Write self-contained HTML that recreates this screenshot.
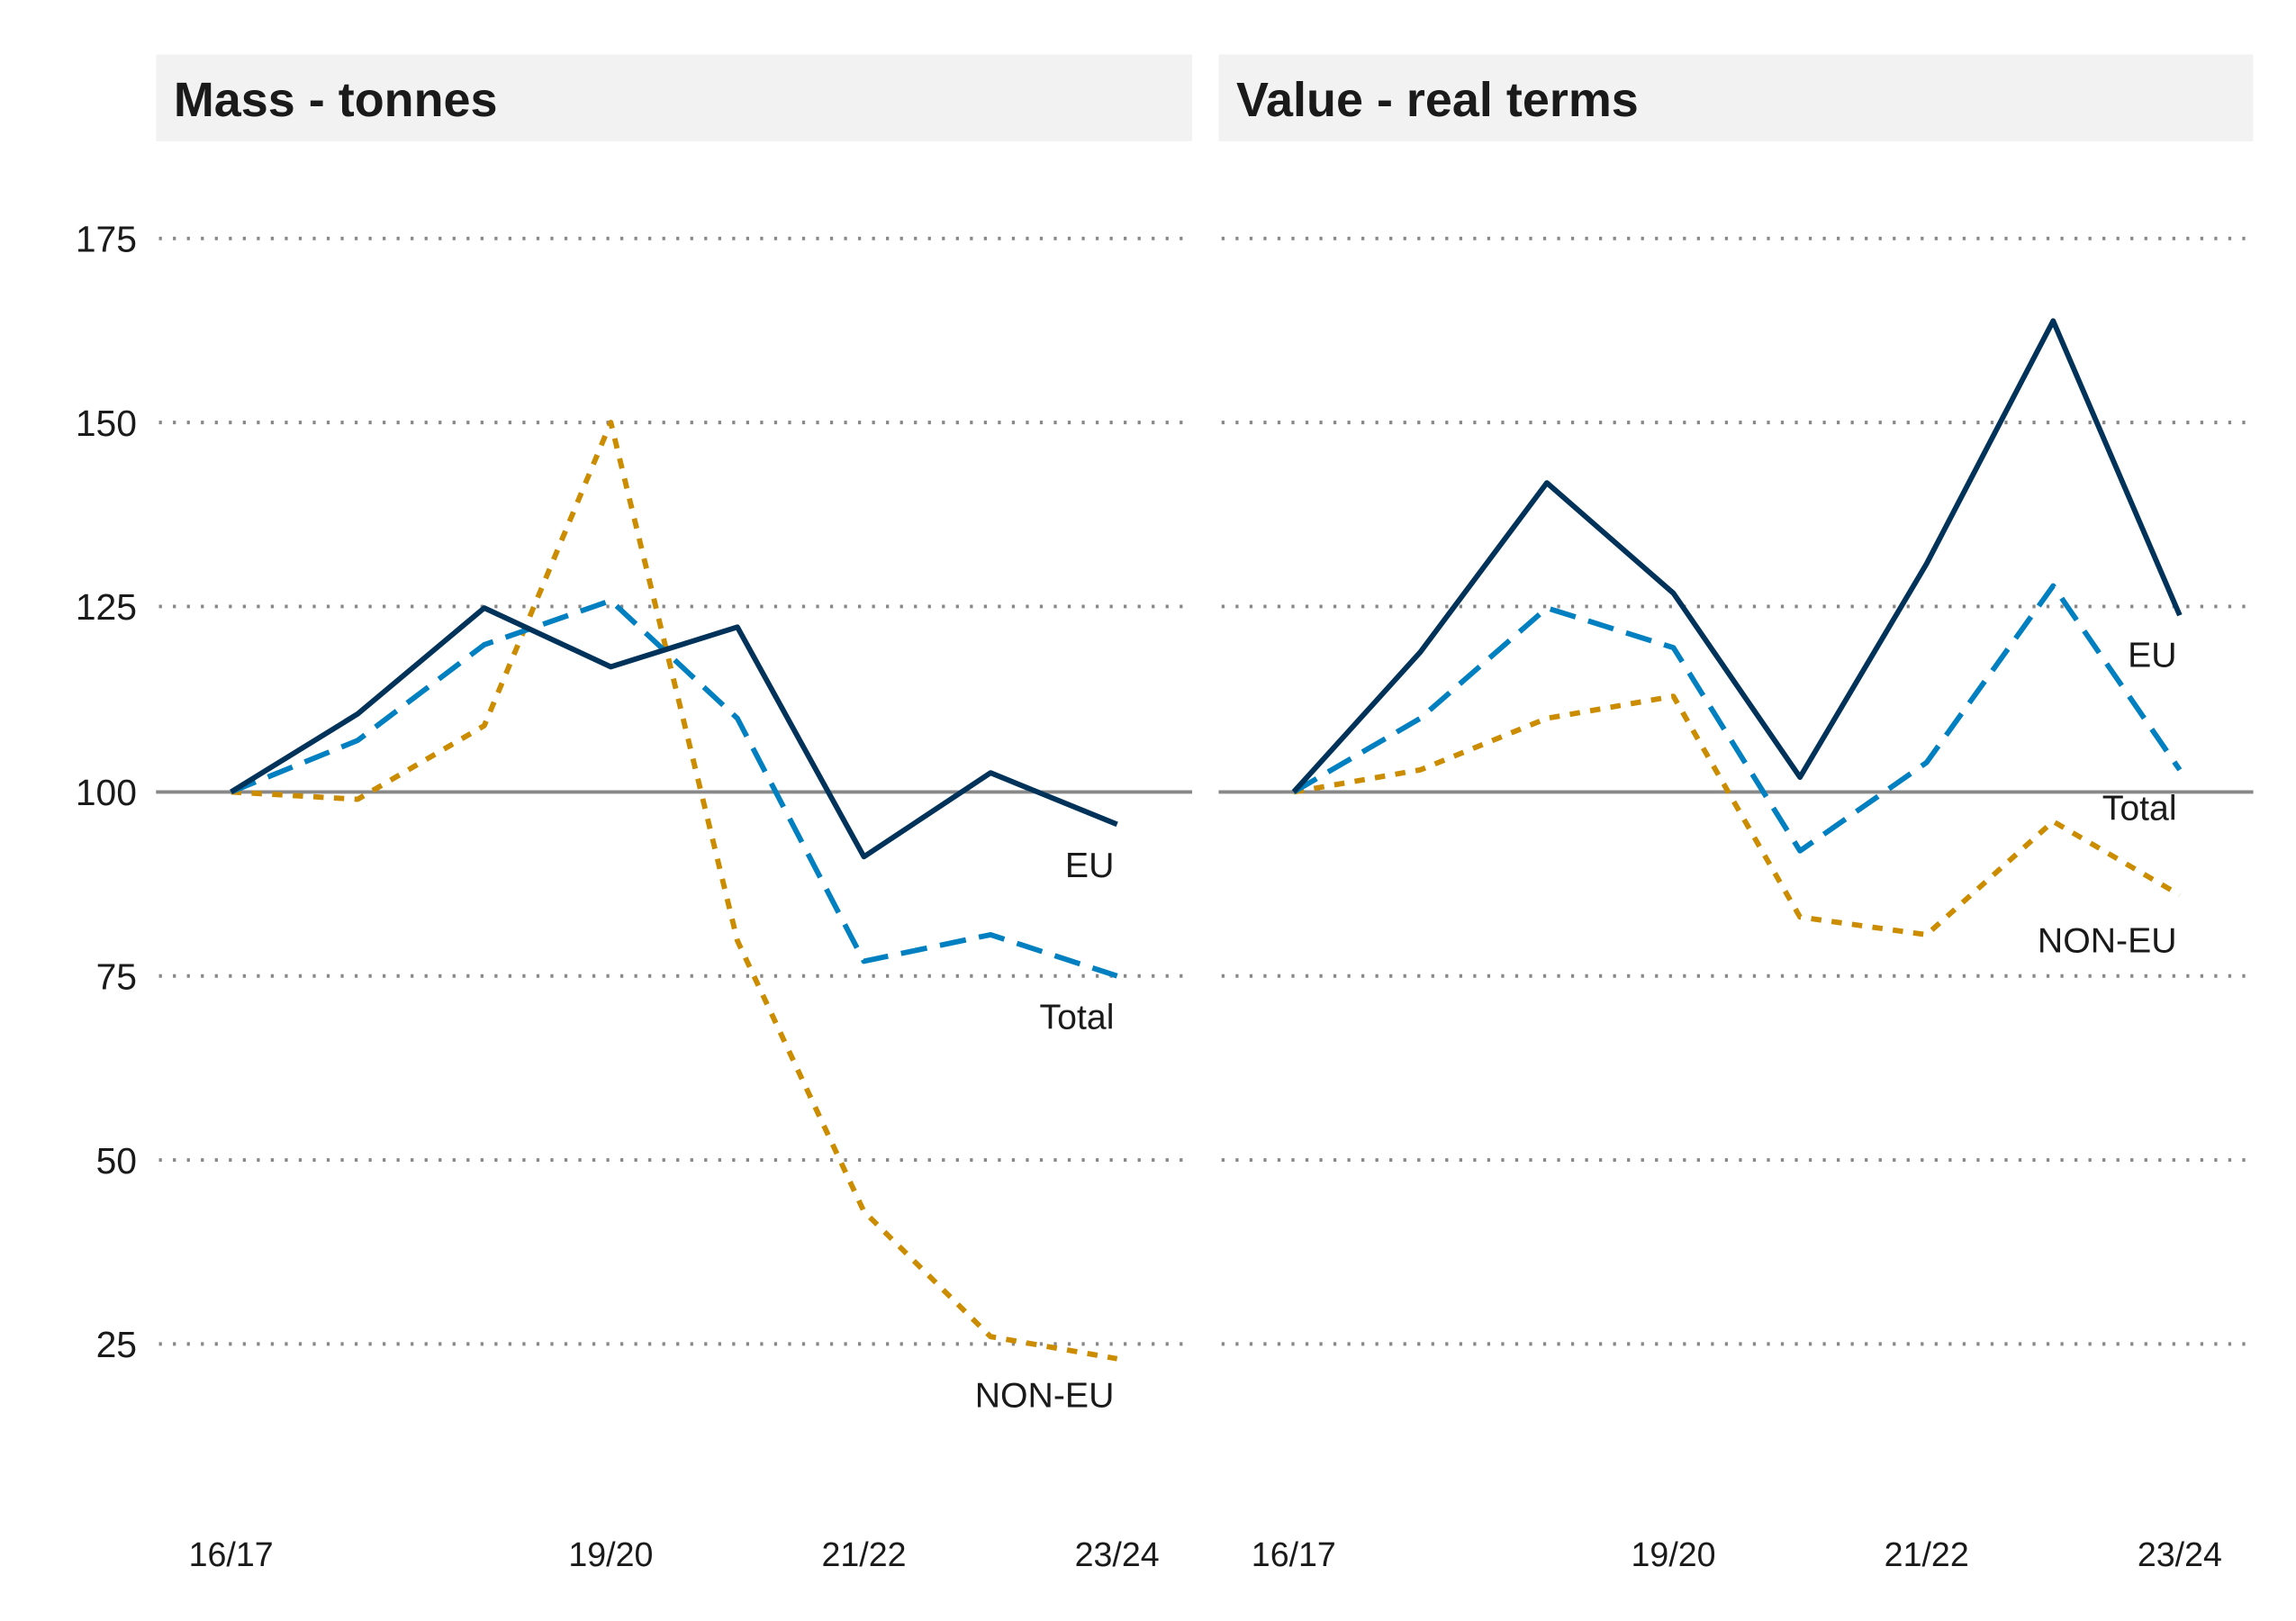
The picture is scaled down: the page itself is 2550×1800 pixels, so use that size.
<!DOCTYPE html>
<html><head><meta charset="utf-8"><style>
html,body{margin:0;padding:0;background:#fff;}
svg{display:block;}
text{font-family:"Liberation Sans",sans-serif;}
</style></head><body>
<svg width="2550" height="1800" viewBox="0 0 1560 1101.2" preserveAspectRatio="none" xmlns="http://www.w3.org/2000/svg">
<rect x="106" y="37" width="704" height="59" fill="#f2f2f2"/>
<rect x="828" y="37" width="703" height="59" fill="#f2f2f2"/>
<text x="118" y="79" font-size="33" font-weight="bold" fill="#1a1a1a">Mass - tonnes</text>
<text x="840" y="79" font-size="33" font-weight="bold" fill="#1a1a1a">Value - real terms</text>
<g stroke="#888" stroke-width="2.4" stroke-dasharray="2 7.5" fill="none">
<path d="M108 162H810M108 287H810M108 412H810M108 663H810M108 788H810M108 913H810"/>
<path d="M830 162H1531M830 287H1531M830 412H1531M830 663H1531M830 788H1531M830 913H1531"/>
</g>
<path d="M106 538H810M828 538H1531" stroke="#888" stroke-width="2.4"/>
<g font-size="25" fill="#1a1a1a" text-anchor="end">
<text x="93" y="171">175</text><text x="93" y="296">150</text><text x="93" y="421">125</text>
<text x="93" y="547">100</text><text x="93" y="672">75</text><text x="93" y="797">50</text><text x="93" y="922">25</text>
</g>
<g font-size="23" fill="#1a1a1a" text-anchor="middle">
<text x="157" y="1064">16/17</text><text x="415" y="1064">19/20</text><text x="587" y="1064">21/22</text><text x="759" y="1064">23/24</text>
<text x="879" y="1064">16/17</text><text x="1137" y="1064">19/20</text><text x="1309" y="1064">21/22</text><text x="1481" y="1064">23/24</text>
</g>
<g fill="none" stroke-width="3.6" stroke-linejoin="round">
<polyline stroke="#cc8c00" stroke-dasharray="7 7" points="157,538 243,543 329,493 415,287 501,639 587,823 673,908 759,923"/>
<polyline stroke="#0080c0" stroke-dasharray="18 9" points="157,538 243,503 329,438 415,408 501,488 587,653 673,635 759,663"/>
<polyline stroke="#00325a" points="157,538 243,485 329,413 415,453 501,426 587,582 673,525 759,560"/>
<polyline stroke="#cc8c00" stroke-dasharray="7 7" points="879,538 965,523 1051,488 1137,473 1223,623 1309,635 1395,558 1481,608"/>
<polyline stroke="#0080c0" stroke-dasharray="18 9" points="879,538 965,488 1051,413 1137,440 1223,578 1309,518 1395,398 1481,523"/>
<polyline stroke="#00325a" points="879,538 965,443 1051,328 1137,403 1223,528 1309,383 1395,218 1481,418"/>
</g>
<g font-size="24" fill="#1a1a1a" text-anchor="end">
<text x="757" y="596">EU</text><text x="757" y="699">Total</text><text x="757" y="956">NON-EU</text>
<text x="1479" y="453">EU</text><text x="1479" y="557">Total</text><text x="1479" y="647">NON-EU</text>
</g>
</svg>
</body></html>
